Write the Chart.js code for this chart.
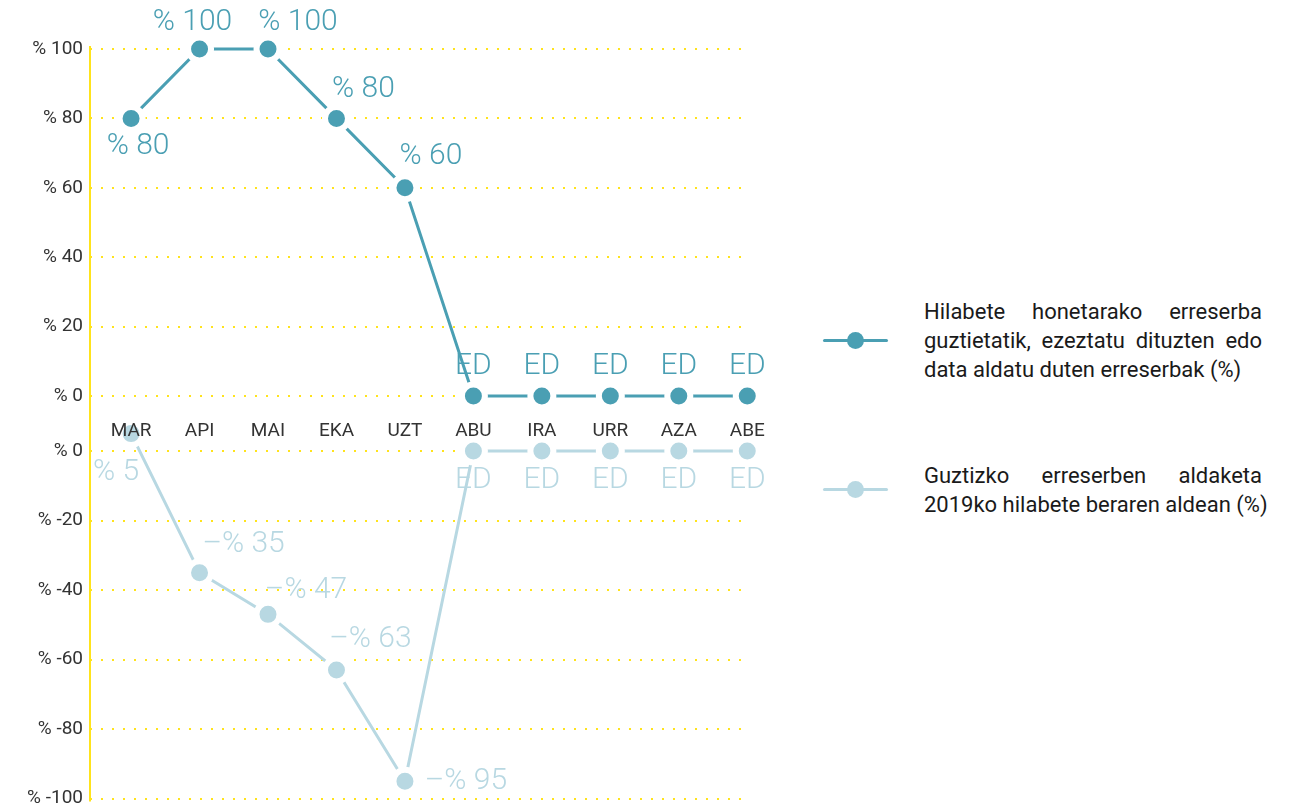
<!DOCTYPE html>
<html>
<head>
<meta charset="utf-8">
<script src="https://cdn.jsdelivr.net/npm/chart.js@4/dist/chart.umd.min.js"></script>
<style>
  body { margin: 0; background: #fff; width: 1291px; height: 807px; position: relative; overflow: hidden; font-family: Roboto, sans-serif; }
  #topChart { position: absolute; left: 0; top: 0; }
  #bottomChart { position: absolute; left: 0; top: 420px; }
  .legend { position: absolute; left: 823px; width: 440px; }
  .legend .mark { position: absolute; left: 0; width: 65px; height: 3px; border-radius: 2px; }
  .legend .mark i { position: absolute; left: 24px; top: -7px; width: 17px; height: 17px; border-radius: 50%; }
  .legend .txt { position: absolute; left: 101px; width: 338px; font-size: 22px; line-height: 29px; color: #1a1a1a; }
  .legend .txt div { text-align: justify; text-align-last: justify; white-space: nowrap; }
  .legend .txt div.last { text-align-last: left; }
</style>
</head>
<body>
<canvas id="bottomChart" width="800" height="397"></canvas>
<canvas id="topChart" width="800" height="440"></canvas>

<div class="legend" style="top:339px">
  <div class="mark" style="background:#4a9fb3"><i style="background:#4a9fb3"></i></div>
  <div class="txt" style="top:-42px">
    <div>Hilabete honetarako erreserba</div>
    <div>guztietatik, ezeztatu dituzten edo</div>
    <div class="last">data aldatu duten erreserbak (%)</div>
  </div>
</div>
<div class="legend" style="top:488px">
  <div class="mark" style="background:#b8d8e2"><i style="background:#b8d8e2"></i></div>
  <div class="txt" style="top:-27px">
    <div>Guztizko erreserben aldaketa</div>
    <div class="last">2019ko hilabete beraren aldean (%)</div>
  </div>
</div>

<script>
const months = ['MAR', 'API', 'MAI', 'EKA', 'UZT', 'ABU', 'IRA', 'URR', 'AZA', 'ABE'];

// % of this month's bookings cancelled or moved
const cancelled = [80, 100, 100, 80, 60, 0, 0, 0, 0, 0];
const cancelledLabels = ['% 80', '% 100', '% 100', '% 80', '% 60', 'ED', 'ED', 'ED', 'ED', 'ED'];

// change in total bookings vs same month of 2019
const change = [5, -35, -47, -63, -95, 0, 0, 0, 0, 0];
const changeLabels = ['% 5', '–% 35', '–% 47', '–% 63', '–% 95', 'ED', 'ED', 'ED', 'ED', 'ED'];

const DARK = '#4a9fb3';
const LIGHT = '#b8d8e2';
const YELLOW = '#ffe31b';

// label offsets from each point (style only)
const cancelledOffsets = [[7, 28], [-7, -27], [30, -27], [27, -29], [26, -31], [0, -30], [0, -30], [0, -30], [0, -30], [0, -30]];
const changeOffsets = [[-15, 39], [44, -28], [38, -24], [34, -30], [61, 0], [0, 29], [0, 29], [0, 29], [0, 29], [0, 29]];

const pointLabels = {
  id: 'pointLabels',
  afterDatasetsDraw(chart, args, opts) {
    const ctx = chart.ctx;
    chart.data.datasets.forEach((ds, di) => {
      chart.getDatasetMeta(di).data.forEach((pt, i) => {
        const off = opts.offsets[i];
        ctx.save();
        ctx.font = '300 30px Roboto';
        ctx.fillStyle = ds.borderColor;
        ctx.textAlign = 'center';
        ctx.textBaseline = 'middle';
        ctx.fillText(ds.valueLabels[i], pt.x + off[0], pt.y + off[1]);
        ctx.restore();
      });
    });
  }
};

// yellow vertical axis that runs through the gap between the panels
const axisLine = {
  id: 'axisLine',
  beforeDatasetsDraw(chart, args, opts) {
    const ctx = chart.ctx;
    const x = chart.chartArea.left;
    ctx.save();
    ctx.strokeStyle = YELLOW;
    ctx.lineWidth = 2;
    ctx.beginPath();
    ctx.moveTo(x, opts.from === 'top' ? chart.chartArea.top - 3 : 0);
    ctx.lineTo(x, opts.to === 'bottom' ? chart.height : chart.chartArea.bottom + 3);
    ctx.stroke();
    ctx.restore();
  }
};

function dataset(values, labels, color) {
  return {
    data: values.map((v, i) => ({ x: i, y: v })),
    valueLabels: labels,
    borderColor: color,
    backgroundColor: color,
    borderWidth: 3,
    pointRadius: 11.5,
    pointBorderWidth: 6,
    pointBorderColor: '#fff',
    pointBackgroundColor: color,
    clip: false
  };
}

function yScale(min, max) {
  return {
    min: min,
    max: max,
    afterFit: s => { s.width = 90; },
    ticks: {
      stepSize: 20,
      padding: 7,
      color: '#333',
      font: { family: 'Roboto', size: 19 },
      callback: v => '% ' + v
    },
    grid: { color: YELLOW, lineWidth: 2, drawTicks: false },
    border: { display: false, dash: [2, 9] }
  };
}

function xScale(show) {
  return {
    type: 'linear',
    min: -0.6,
    max: 9.04,
    display: show,
    afterBuildTicks: s => { s.ticks = months.map((m, i) => ({ value: i })); },
    afterFit: s => { s.height = show ? 40 : 0; },
    ticks: {
      autoSkip: false,
      maxRotation: 0,
      padding: 16,
      color: '#333',
      font: { family: 'Roboto', size: 19 },
      callback: v => months[v]
    },
    grid: { display: false },
    border: { display: false }
  };
}

new Chart(document.getElementById('topChart'), {
  type: 'line',
  data: { datasets: [dataset(cancelled, cancelledLabels, DARK)] },
  options: {
    responsive: false,
    animation: false,
    layout: { padding: { top: 49, right: 50, bottom: 4, left: 0 } },
    plugins: {
      legend: { display: false },
      tooltip: { enabled: false },
      pointLabels: { offsets: cancelledOffsets },
      axisLine: { from: 'top', to: 'bottom' }
    },
    scales: { x: xScale(true), y: yScale(0, 100) }
  },
  plugins: [axisLine, pointLabels]
});

new Chart(document.getElementById('bottomChart'), {
  type: 'line',
  data: { datasets: [dataset(change, changeLabels, LIGHT)] },
  options: {
    responsive: false,
    animation: false,
    layout: { padding: { top: 31, right: 50, bottom: 1, left: 0 } },
    plugins: {
      legend: { display: false },
      tooltip: { enabled: false },
      pointLabels: { offsets: changeOffsets },
      axisLine: { from: 'canvas', to: 'area' }
    },
    scales: { x: xScale(false), y: yScale(-100, 0) }
  },
  plugins: [axisLine, pointLabels]
});
</script>
</body>
</html>
